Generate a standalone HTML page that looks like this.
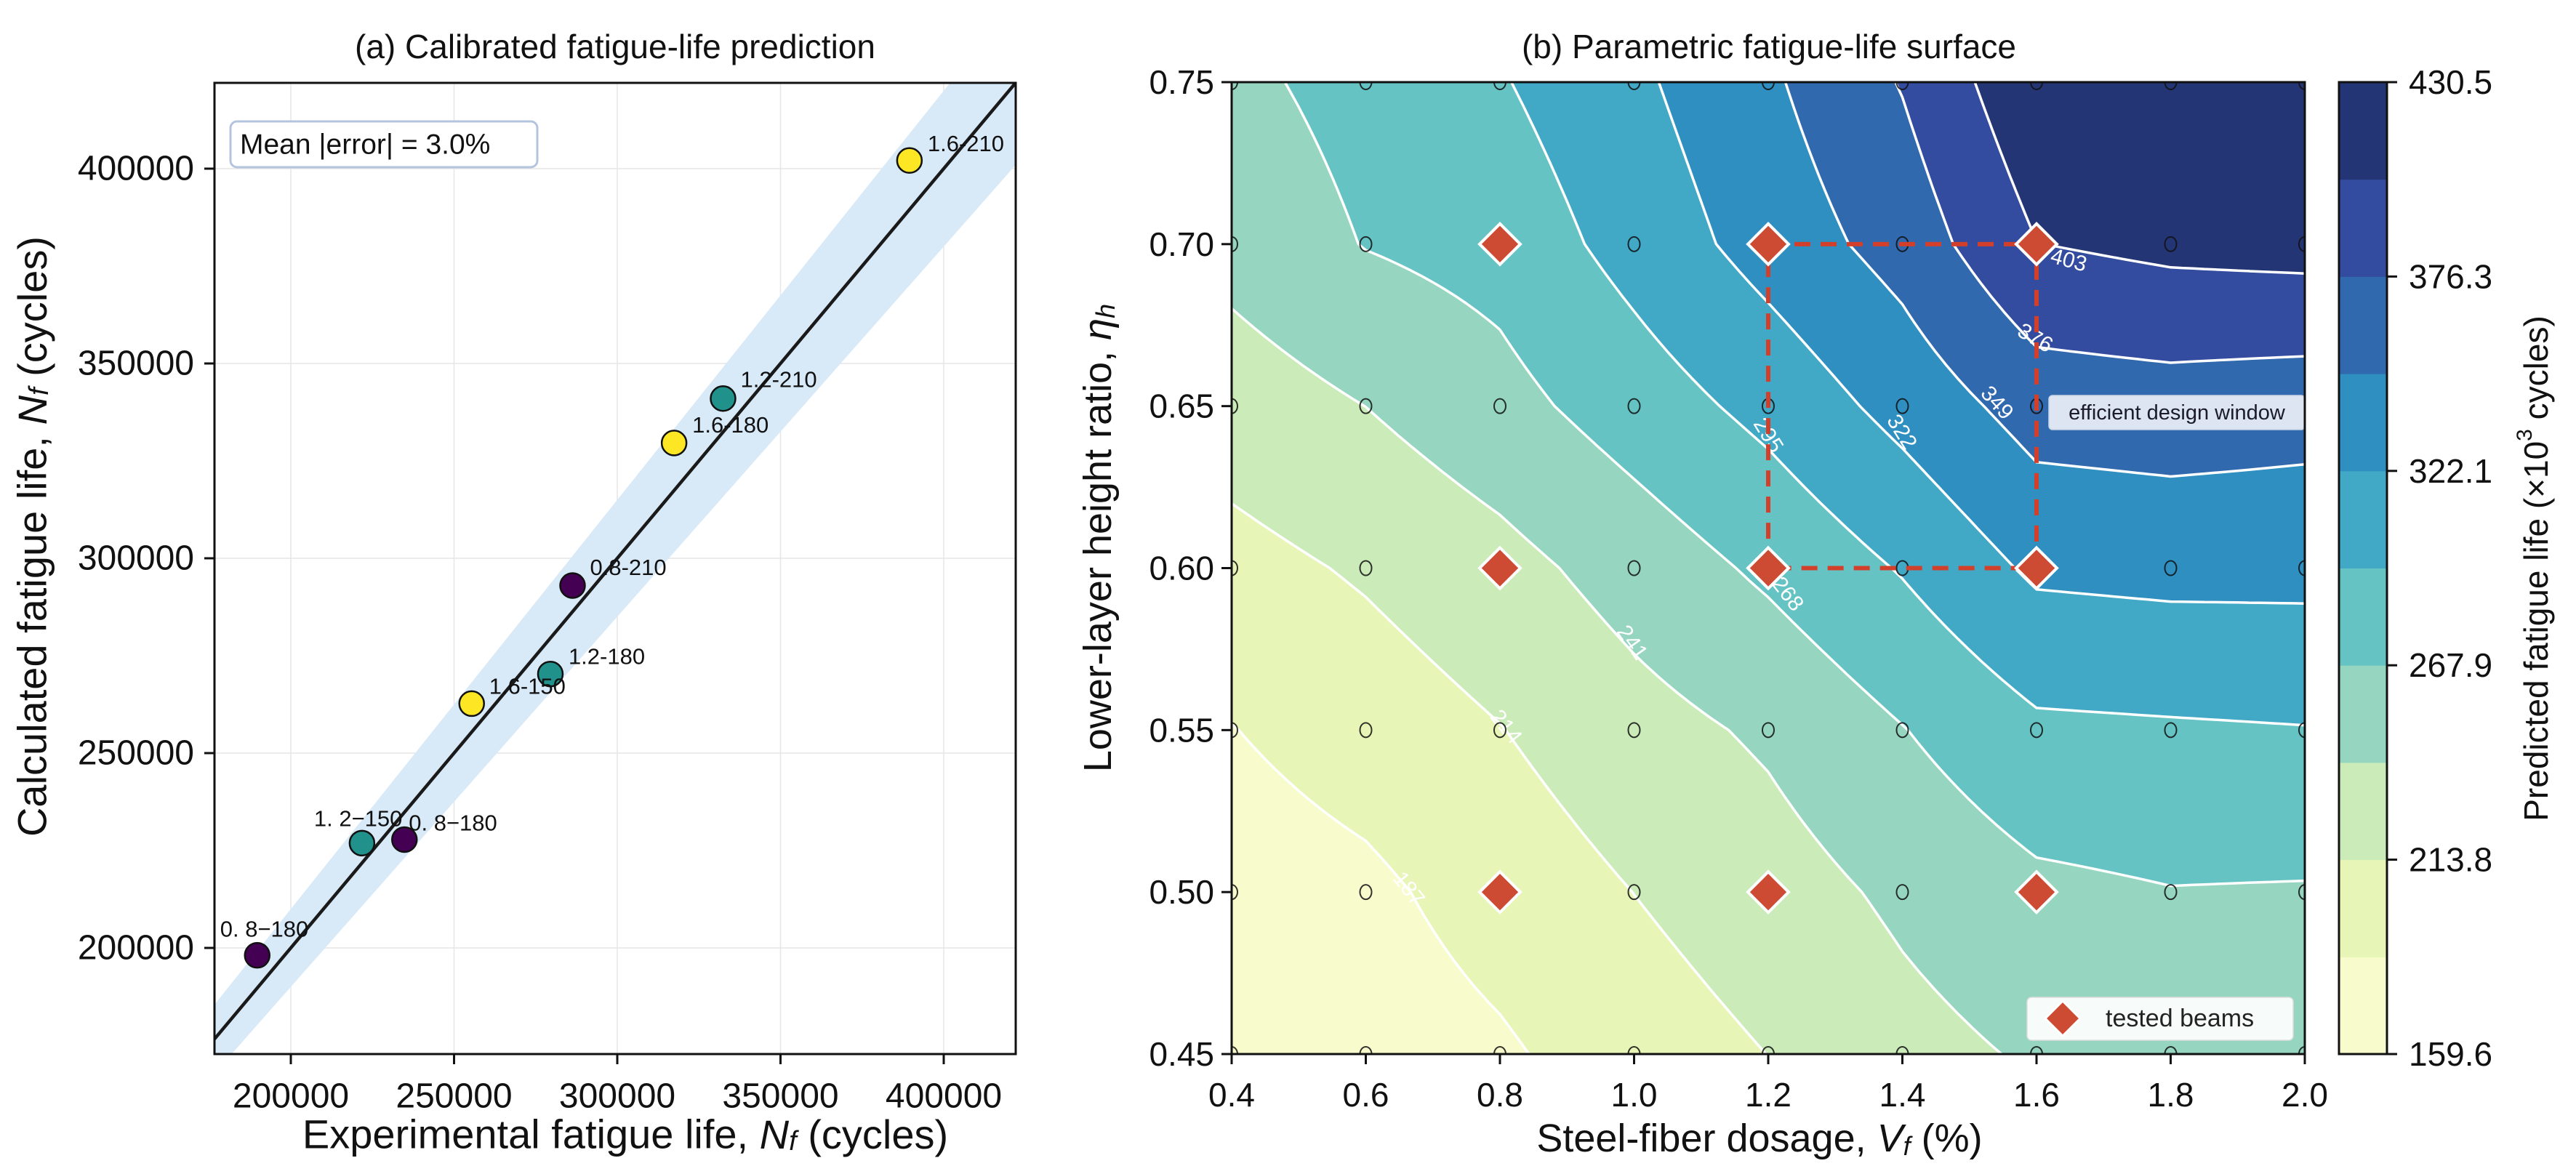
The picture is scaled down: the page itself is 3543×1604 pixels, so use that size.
<!DOCTYPE html>
<html><head><meta charset="utf-8">
<style>
html,body{margin:0;padding:0;background:#fff;}
#wrap{position:relative;width:3543px;height:1604px;overflow:hidden;background:#fff;font-family:"Liberation Sans","DejaVu Sans",sans-serif;}
#heat{position:absolute;left:1694px;top:113px;}
#ov{position:absolute;left:0;top:0;}
</style></head>
<body>
<div id="wrap">
<canvas id="heat" width="1476" height="1337"></canvas>
<svg id="ov" width="3543" height="1604" xmlns="http://www.w3.org/2000/svg">
<defs>
<clipPath id="clipA"><rect x="295" y="114" width="1102" height="1336"/></clipPath>
<clipPath id="clipB"><rect x="1694" y="113" width="1476" height="1337"/></clipPath>
</defs>
<g id="panelA"></g>
<g id="panelB"></g>
</svg>
</div>
<script>
// ---------- Panel (a) data ----------
const pointLabels = ["1.6-210","1.2-210","1.6-180","0.8-210","1.2-180","1.6-150","1. 2\u2212150","0. 8\u2212180","0. 8\u2212180"];
const expLife = [389500,332400,317400,286300,279500,255400,221800,234800,189700];
const calcLife = [402100,341000,329600,293000,270300,262700,226900,227800,198100];
const pointGroup = [2,1,2,0,1,2,1,0,0];
const aTicks = [200000,250000,300000,350000,400000];
const bandFrac = 0.05;
const groupColors = ["#440154","#21918c","#fde725"];
const labelDx = [25,24,25,24,25,24,-66,6,-51];
const labelDy = [-23,-26,-25,-25,-24,-24,-34,-23,-36];

// ---------- Panel (b) data ----------
const xGrid = [0.4,0.6,0.8,1.0,1.2,1.4,1.6,1.8,2.0];
const yGrid = [0.45,0.50,0.55,0.60,0.65,0.70,0.75];
const zRow045 = [159.6,172,183,200,214,232,244,250,255];
const zRow050 = [173,181,198,214,229,246,262,267,266];
const zRow055 = [186,199,213,231,245,267,290,292,294];
const zRow060 = [205,217,232,252,273,297,327,330,330];
const zRow065 = [227,241,259,281,303,331,361,364,360];
const zRow070 = [250,269,278,305,333,360,403,410,413];
const zRow075 = [262,277,293,317,345,378,425,428,430.5];
const Z = [zRow045,zRow050,zRow055,zRow060,zRow065,zRow070,zRow075];
const testedX = [0.8,1.2,1.6,0.8,1.2,1.6,0.8,1.2,1.6];
const testedY = [0.7,0.7,0.7,0.6,0.6,0.6,0.5,0.5,0.5];
const windowX = [1.2,1.6];
const windowY = [0.6,0.7];
const zMin = 159.6, zMax = 430.5, nLevels = 10;
const cbTickLabels = ["159.6","213.8","267.9","322.1","376.3","430.5"];
const xTicksB = [0.4,0.6,0.8,1.0,1.2,1.4,1.6,1.8,2.0];
const xTickLabelsB = ["0.4","0.6","0.8","1.0","1.2","1.4","1.6","1.8","2.0"];
const yTicksB = [0.45,0.50,0.55,0.60,0.65,0.70,0.75];
const yTickLabelsB = ["0.45","0.50","0.55","0.60","0.65","0.70","0.75"];
const contourLabelText = ["187","214","241","268","295","322","349","376","403"];
const contourLabelX = [0.664,0.809,0.997,1.229,1.2,1.399,1.541,1.598,1.648];
const contourLabelY = [0.501,0.551,0.577,0.592,0.641,0.642,0.651,0.671,0.695];
const contourLabelRot = [52,52,55,52,58,58,48,30,15];

const NS="http://www.w3.org/2000/svg";
function mk(tag, attrs, parent, text){
  const e=document.createElementNS(NS,tag);
  for(const k in attrs) e.setAttribute(k,attrs[k]);
  if(text!==undefined) e.textContent=text;
  parent.appendChild(e); return e;
}
const FONT='"Liberation Sans","DejaVu Sans",sans-serif';

// ================= Panel A =================
(function(){
  const g=document.getElementById('panelA');
  const L=295,R=1397,T=114,B=1450;
  const xmin=176615,xmax=422050,ymin=172761,ymax=422015;
  const X=v=>L+(v-xmin)/(xmax-xmin)*(R-L);
  const Y=v=>B-(v-ymin)/(ymax-ymin)*(B-T);
  const clip=mk('g',{'clip-path':'url(#clipA)'},g);
  aTicks.forEach(t=>{
    let l=mk('line',{x1:X(t),x2:X(t),y1:T,y2:B,stroke:'#e6e6e6','stroke-width':1.5},clip);
     
    let m=mk('line',{x1:L,x2:R,y1:Y(t),y2:Y(t),stroke:'#e6e6e6','stroke-width':1.5},clip);
     
  });
  const pts=[[xmin,xmin*(1+bandFrac)],[xmax,xmax*(1+bandFrac)],[xmax,xmax*(1-bandFrac)],[xmin,xmin*(1-bandFrac)]];
  const band=mk('polygon',{points:pts.map(p=>X(p[0])+','+Y(p[1])).join(' '),fill:'#d8e9f8'},clip);
   
  const ln=mk('line',{x1:X(xmin),y1:Y(xmin),x2:X(xmax),y2:Y(xmax),stroke:'#1a1a1a','stroke-width':4.5},clip);
   
  expLife.forEach((v,i)=>{
    const c=mk('circle',{cx:X(v),cy:Y(calcLife[i]),r:17,fill:groupColors[pointGroup[i]],stroke:'#111','stroke-width':2.5},g);
     
    const t=mk('text',{x:X(v)+labelDx[i],y:Y(calcLife[i])+labelDy[i],'font-size':31,'font-family':FONT,fill:'#111','dominant-baseline':'central'},g,pointLabels[i]);
     
  });
  const fr=mk('rect',{x:L,y:T,width:R-L,height:B-T,fill:'none',stroke:'#111','stroke-width':3},g);
   
  aTicks.forEach(t=>{
    mk('line',{x1:X(t),x2:X(t),y1:B,y2:B+14,stroke:'#111','stroke-width':3},g);
    const a=mk('text',{x:X(t),y:1508,'font-size':48,'font-family':FONT,'text-anchor':'middle','dominant-baseline':'central',fill:'#111'},g,String(t));
     
    mk('line',{x1:L-14,x2:L,y1:Y(t),y2:Y(t),stroke:'#111','stroke-width':3},g);
    const b=mk('text',{x:L-28,y:Y(t),'font-size':48,'font-family':FONT,'text-anchor':'end','dominant-baseline':'central',fill:'#111'},g,String(t));
     
  });
  const box=mk('rect',{x:317,y:167,width:422,height:63,rx:9,fill:'#fff',stroke:'#b4c4de','stroke-width':3},g);
   
  const bt=mk('text',{x:330,y:199,'font-size':39,'font-family':FONT,fill:'#111','dominant-baseline':'central'},g,'Mean |error| = 3.0%');
   
  const ti=mk('text',{x:846,y:64,'font-size':46,'font-family':FONT,'text-anchor':'middle','dominant-baseline':'central',fill:'#111'},g,'(a) Calibrated fatigue-life prediction');
   
  const xt=mk('text',{x:860,y:1560,'font-size':56,'font-family':FONT,'text-anchor':'middle','dominant-baseline':'central',fill:'#111'},g);
  xt.innerHTML='Experimental fatigue life, <tspan font-style="italic">N</tspan><tspan font-style="italic" font-size="38" dy="10">f</tspan><tspan dy="-10"> (cycles)</tspan>';
   
  const yt=mk('text',{x:0,y:0,'font-size':56,'font-family':FONT,'text-anchor':'middle','dominant-baseline':'central',fill:'#111',transform:'translate(44,738) rotate(-90)'},g);
  yt.innerHTML='Calculated fatigue life, <tspan font-style="italic">N</tspan><tspan font-style="italic" font-size="38" dy="10">f</tspan><tspan dy="-10"> (cycles)</tspan>';
   
})();

// ================= Panel B =================
const cols=[[248,252,201],[229,245,178],[199,233,180],[142,210,186],[90,191,192],[51,161,194],[30,135,187],[34,94,168],[36,62,152],[20,38,107]];
const alpha=0.93;
function colOf(k){const c=cols[k];return c.map(v=>Math.round(v*alpha+255*(1-alpha)));}
function field(x,y){
  let i=Math.floor((x-xGrid[0])/(xGrid[1]-xGrid[0])); i=Math.max(0,Math.min(xGrid.length-2,i));
  let j=Math.floor((y-yGrid[0])/(yGrid[1]-yGrid[0])); j=Math.max(0,Math.min(yGrid.length-2,j));
  const tx=(x-xGrid[i])/(xGrid[i+1]-xGrid[i]), ty=(y-yGrid[j])/(yGrid[j+1]-yGrid[j]);
  return Z[j][i]*(1-tx)*(1-ty)+Z[j][i+1]*tx*(1-ty)+Z[j+1][i]*(1-tx)*ty+Z[j+1][i+1]*tx*ty;
}
(function(){
  const L=1694,R=3170,T=113,B=1450;
  const x0=xGrid[0],x1=xGrid[xGrid.length-1],y0=yGrid[0],y1=yGrid[yGrid.length-1];
  const X=v=>L+(v-x0)/(x1-x0)*(R-L);
  const Y=v=>B-(v-y0)/(y1-y0)*(B-T);
  const step=(zMax-zMin)/nLevels;
  const cv=document.getElementById('heat'),ctx=cv.getContext('2d');
  const W=cv.width,H=cv.height,img=ctx.createImageData(W,H);
  const pal=[];for(let k=0;k<nLevels;k++)pal.push(colOf(k));
  for(let py=0;py<H;py++){
    const y=y1-(py+0.5)/H*(y1-y0);
    for(let px=0;px<W;px++){
      const x=x0+(px+0.5)/W*(x1-x0);
      let k=Math.floor((field(x,y)-zMin)/step); k=Math.max(0,Math.min(nLevels-1,k));
      const c=pal[k],o=(py*W+px)*4;
      img.data[o]=c[0];img.data[o+1]=c[1];img.data[o+2]=c[2];img.data[o+3]=255;
    }
  }
  ctx.putImageData(img,0,0);
  const g=document.getElementById('panelB');
  const clip=mk('g',{'clip-path':'url(#clipB)'},g);
  const sub=12,NX=(xGrid.length-1)*sub,NY=(yGrid.length-1)*sub;
  const vals=[];for(let j=0;j<=NY;j++){vals.push([]);for(let i=0;i<=NX;i++)vals[j].push(field(x0+i/NX*(x1-x0),y0+j/NY*(y1-y0)));}
  const px=i=>X(x0+i/NX*(x1-x0)), py=j=>Y(y0+j/NY*(y1-y0));
  for(let k=1;k<nLevels;k++){
    const lv=zMin+k*step;let d='';
    for(let j=0;j<NY;j++)for(let i=0;i<NX;i++){
      const c=[[i,j],[i+1,j],[i+1,j+1],[i,j+1]];const p=[];
      for(let e=0;e<4;e++){
        const a=c[e],b=c[(e+1)%4],va=vals[a[1]][a[0]],vb=vals[b[1]][b[0]];
        if((va<lv)!==(vb<lv)){const t=(lv-va)/(vb-va);p.push([px(a[0]+(b[0]-a[0])*t),py(a[1]+(b[1]-a[1])*t)]);}
      }
      for(let q=0;q+1<p.length;q+=2)d+='M'+p[q][0].toFixed(1)+' '+p[q][1].toFixed(1)+'L'+p[q+1][0].toFixed(1)+' '+p[q+1][1].toFixed(1);
    }
    const path=mk('path',{d:d,stroke:'#ffffff','stroke-width':3.5,fill:'none','stroke-linecap':'round'},clip);
     
  }
  contourLabelText.forEach((s,i)=>{
    const cx=X(contourLabelX[i]),cy=Y(contourLabelY[i]);
    const t=mk('text',{x:cx,y:cy,'font-size':30,'font-family':FONT,fill:'#ffffff','text-anchor':'middle','dominant-baseline':'central',transform:`rotate(${contourLabelRot[i]} ${cx} ${cy})`},clip,s);
     
  });
  xGrid.forEach(x=>yGrid.forEach(y=>{
    const c=mk('ellipse',{cx:X(x),cy:Y(y),rx:8,ry:10,fill:'none',stroke:'#111','stroke-width':2,'stroke-opacity':0.85},clip);
     
  }));
  const wx=X(windowX[0]),wx2=X(windowX[1]),wy=Y(windowY[1]),wy2=Y(windowY[0]);
  const rect=mk('rect',{x:wx,y:wy,width:wx2-wx,height:wy2-wy,fill:'none',stroke:'#d2402b','stroke-width':6,'stroke-dasharray':'22 14'},clip);
   
  testedX.forEach((x,i)=>{
    const cx=X(x),cy=Y(testedY[i]),s=28;
    const d=mk('polygon',{points:`${cx},${cy-s} ${cx+s},${cy} ${cx},${cy+s} ${cx-s},${cy}`,fill:'#cd4a33',stroke:'#fff','stroke-width':4},clip);
     
  });
  const wb=mk('rect',{x:2818,y:544,width:352,height:47,rx:5,fill:'#dce5f1',stroke:'#c8d4e6','stroke-width':1.5},g);
   
  const wt=mk('text',{x:2994,y:568,'font-size':29,'font-family':FONT,fill:'#1b1b2a','text-anchor':'middle','dominant-baseline':'central'},g,'efficient design window');
   
  const lg=mk('rect',{x:2788,y:1372,width:366,height:59,rx:6,fill:'#ffffff','fill-opacity':0.92,stroke:'#dddddd','stroke-width':1.5},g);
   
  const ld=mk('polygon',{points:'2837,1377 2861,1401 2837,1425 2813,1401',fill:'#cd4a33',stroke:'#fff','stroke-width':3},g);
   
  const lt=mk('text',{x:2896,y:1401,'font-size':34,'font-family':FONT,fill:'#222','dominant-baseline':'central'},g,'tested beams');
   
  const fr=mk('rect',{x:L,y:T,width:R-L,height:B-T,fill:'none',stroke:'#111','stroke-width':3},g);
   
  xTicksB.forEach((t,i)=>{
    mk('line',{x1:X(t),x2:X(t),y1:B,y2:B+14,stroke:'#111','stroke-width':3},g);
    const a=mk('text',{x:X(t),y:1506,'font-size':46,'font-family':FONT,'text-anchor':'middle','dominant-baseline':'central',fill:'#111'},g,xTickLabelsB[i]);
     
  });
  yTicksB.forEach((t,i)=>{
    mk('line',{x1:L-14,x2:L,y1:Y(t),y2:Y(t),stroke:'#111','stroke-width':3},g);
    const a=mk('text',{x:L-24,y:Y(t),'font-size':46,'font-family':FONT,'text-anchor':'end','dominant-baseline':'central',fill:'#111'},g,yTickLabelsB[i]);
     
  });
  const cL=3217,cR=3283;
  const CY=v=>B-(v-zMin)/(zMax-zMin)*(B-T);
  for(let k=0;k<nLevels;k++){
    const c=colOf(k);
    const r=mk('rect',{x:cL,y:CY(zMin+(k+1)*step),width:cR-cL,height:CY(zMin+k*step)-CY(zMin+(k+1)*step)+0.5,fill:`rgb(${c[0]},${c[1]},${c[2]})`},g);
     
  }
  const cf=mk('rect',{x:cL,y:T,width:cR-cL,height:B-T,fill:'none',stroke:'#111','stroke-width':3},g);
   
  cbTickLabels.forEach((s,i)=>{
    const v=zMin+i*2*step;
    mk('line',{x1:cR,x2:cR+14,y1:CY(v),y2:CY(v),stroke:'#111','stroke-width':3},g);
    const a=mk('text',{x:cR+30,y:CY(v),'font-size':46,'font-family':FONT,'dominant-baseline':'central',fill:'#111'},g,s);
     
  });
  const cbt=mk('text',{x:0,y:0,'font-size':46,'font-family':FONT,'text-anchor':'middle','dominant-baseline':'central',fill:'#111',transform:'translate(3488,782) rotate(-90)'},g);
  cbt.innerHTML='Predicted fatigue life (×10<tspan font-size="30" dy="-16">3</tspan><tspan dy="16"> cycles)</tspan>';
   
  const ti=mk('text',{x:2433,y:64,'font-size':46,'font-family':FONT,'text-anchor':'middle','dominant-baseline':'central',fill:'#111'},g,'(b) Parametric fatigue-life surface');
   
  const xt=mk('text',{x:2420,y:1566,'font-size':54,'font-family':FONT,'text-anchor':'middle','dominant-baseline':'central',fill:'#111'},g);
  xt.innerHTML='Steel-fiber dosage, <tspan font-style="italic">V</tspan><tspan font-style="italic" font-size="36" dy="10">f</tspan><tspan dy="-10"> (%)</tspan>';
   
  const yt=mk('text',{x:0,y:0,'font-size':54,'font-family':FONT,'text-anchor':'middle','dominant-baseline':'central',fill:'#111',transform:'translate(1510,740) rotate(-90)'},g);
  yt.innerHTML='Lower-layer height ratio, <tspan font-style="italic">η</tspan><tspan font-style="italic" font-size="36" dy="10">h</tspan>';
   
})();
</script>
</body></html>
